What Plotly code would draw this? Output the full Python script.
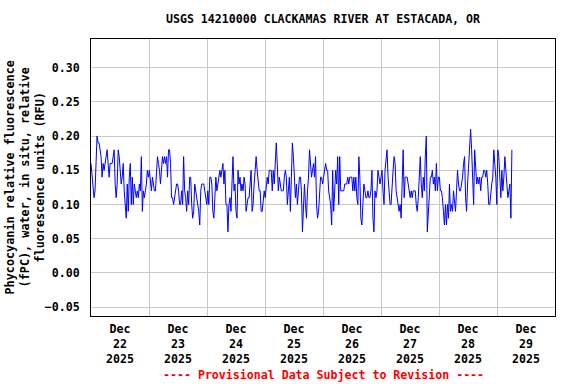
import plotly.graph_objects as go
import pandas as pd

# Phycocyanin readings (RFU x 100), roughly one per ~25 minutes starting Dec 22 00:00
fpc_hundredths = [
    # Dec 22
    16, 14, 12, 11, 12, 17, 20, 19, 19, 18, 17, 14, 16, 15, 16, 17, 18, 16, 14, 16,
    16, 16, 17, 18, 13, 11, 13, 18, 17, 15, 13, 14, 16, 12, 10, 8, 13, 9, 14, 16,
    10, 14, 10, 13, 12, 11, 12, 11, 13, 12, 17, 9, 12, 11, 12, 13, 15, 14, 15, 13,
    # Dec 23
    12, 14, 13, 12, 12, 14, 17, 16, 15, 13, 15, 17, 16, 17, 16, 17, 14, 18, 18, 16,
    11, 11, 10, 11, 12, 13, 13, 12, 10, 10, 12, 10, 17, 12, 11, 9, 12, 10, 14, 14,
    10, 8, 9, 13, 12, 11, 10, 9, 7, 12, 13, 13, 13, 12, 11, 10, 12, 10, 14, 14,
    # Dec 24
    13, 9, 8, 12, 14, 12, 13, 14, 15, 14, 15, 16, 13, 15, 10, 10, 6, 10, 11, 9,
    13, 17, 12, 13, 9, 8, 15, 13, 14, 12, 13, 12, 14, 13, 9, 10, 11, 11, 13, 15,
    9, 10, 13, 16, 17, 15, 13, 12, 12, 9, 9, 11, 12, 11, 13, 14, 13, 15, 15, 15,
    # Dec 25
    12, 15, 13, 16, 19, 16, 12, 14, 13, 12, 12, 12, 14, 15, 14, 10, 12, 14, 9, 13,
    19, 17, 14, 11, 13, 10, 12, 14, 14, 12, 6, 10, 13, 10, 8, 12, 14, 18, 16, 14,
    15, 16, 14, 17, 10, 8, 9, 13, 14, 14, 13, 14, 15, 16, 15, 15, 12, 11, 10, 7,
    # Dec 26
    15, 9, 13, 15, 13, 17, 10, 17, 12, 12, 12, 12, 13, 13, 13, 14, 13, 14, 14, 14,
    12, 14, 12, 14, 11, 10, 17, 14, 8, 7, 10, 13, 12, 11, 11, 12, 11, 11, 12, 15,
    8, 6, 12, 11, 12, 15, 14, 13, 14, 15, 12, 10, 15, 17, 18, 14, 11, 10, 10, 14,
    # Dec 27
    15, 17, 16, 12, 11, 10, 9, 10, 8, 13, 18, 11, 14, 14, 14, 13, 12, 11, 12, 11,
    12, 12, 12, 10, 9, 11, 15, 17, 13, 11, 14, 12, 17, 20, 6, 9, 12, 14, 14, 15,
    13, 14, 12, 16, 12, 14, 14, 12, 12, 11, 9, 7, 10, 7, 10, 8, 13, 9, 10, 9,
    # Dec 28
    12, 10, 9, 12, 15, 13, 12, 12, 13, 14, 16, 17, 11, 9, 13, 16, 17, 21, 18, 13,
    10, 18, 16, 13, 14, 13, 14, 12, 14, 14, 15, 15, 14, 15, 13, 10, 10, 12, 13, 14,
    18, 16, 14, 10, 18, 17, 13, 11, 15, 12, 14, 17, 15, 13, 11, 12, 13, 8, 18,
]

series_start = "2025-12-22 00:00"
sample_step = "25min"

day_labels_month = ["Dec"] * 8
day_labels_day = ["22", "23", "24", "25", "26", "27", "28", "29"]
day_labels_year = ["2025"] * 8
label_times = [f"2025-12-{d} 12:00" for d in day_labels_day]
midnight_times = [f"2025-12-{d} 00:00" for d in ["23", "24", "25", "26", "27", "28", "29"]]
x_range = ["2025-12-22 00:00", "2025-12-30 00:00"]

y_ticks = [-0.05, 0.00, 0.05, 0.10, 0.15, 0.20, 0.25, 0.30]
y_range = [-0.063, 0.342]

times = pd.date_range(series_start, periods=len(fpc_hundredths), freq=sample_step)
values = [v / 100 for v in fpc_hundredths]
tick_text = [f"{m}<br>{d}<br>{y}" for m, d, y in zip(day_labels_month, day_labels_day, day_labels_year)]

FONT = "DejaVu Sans Mono"
GRID = "#c8c8c8"
FS = 11.6

fig = go.Figure()
fig.add_trace(go.Scatter(
    x=times, y=values, mode="lines",
    line=dict(color="#0000ff", width=1),
    hoverinfo="skip", showlegend=False,
))

fig.update_layout(
    width=576, height=384,
    margin=dict(l=91, r=21, t=39, b=68, autoexpand=False),
    paper_bgcolor="white", plot_bgcolor="white",
    font=dict(family=FONT, size=FS, color="black", weight="bold"),
    title=dict(
        text="USGS 14210000 CLACKAMAS RIVER AT ESTACADA, OR",
        x=(91 + 555) / 2 / 576, xanchor="center",
        y=1 - 19 / 384, yanchor="middle",
        font=dict(family=FONT, size=FS, color="black", weight="bold"),
    ),
    xaxis=dict(
        type="date", range=x_range, automargin=False,
        tickvals=label_times, ticktext=tick_text,
        ticks="", showgrid=False,
        minor=dict(tickvals=midnight_times, showgrid=True, gridcolor=GRID, gridwidth=1, ticks=""),
        showline=True, linecolor="black", linewidth=1, mirror=True,
        zeroline=False, tickfont=dict(family=FONT, size=FS, weight="bold"),
        ticklabelstandoff=2,
    ),
    yaxis=dict(
        range=y_range, tickvals=y_ticks, tickformat=".2f", automargin=False,
        showgrid=True, gridcolor=GRID, gridwidth=1,
        ticks="", zeroline=False,
        showline=True, linecolor="black", linewidth=1, mirror=True,
        tickfont=dict(family=FONT, size=FS, weight="bold"),
        ticklabelstandoff=8,
    ),
    annotations=[
        dict(
            text="Phycocyanin relative fluorescence<br>(fPC), water, in situ, relative<br>fluorescence units (RFU)",
            xref="paper", yref="paper", x=-(91 - 25) / 464, y=0.5,
            xanchor="center", yanchor="middle", textangle=-90, showarrow=False,
            font=dict(family=FONT, size=11.8, color="black", weight="bold"),
        ),
        dict(
            text="---- Provisional Data Subject to Revision ----",
            xref="paper", yref="paper", x=0.5, y=-(375 - 316) / 277,
            xanchor="center", yanchor="middle", showarrow=False,
            font=dict(family=FONT, size=FS, color="#ff0000", weight="bold"),
        ),
    ],
)

fig.write_html(
    "out.html",
    config={"displayModeBar": False},
    post_script="document.body.style.margin='0';",
)
